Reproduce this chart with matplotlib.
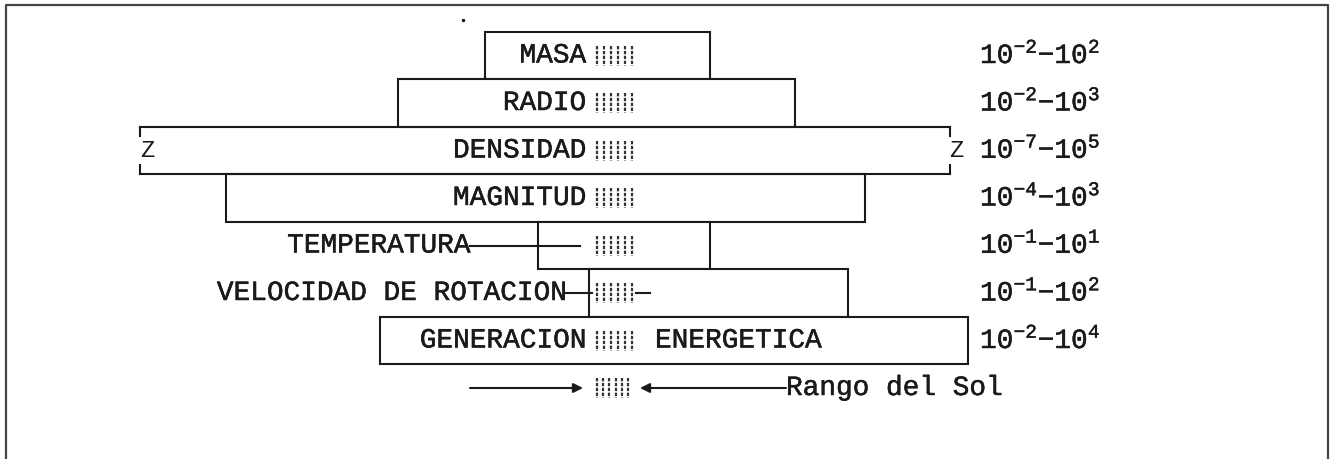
import numpy as np
import matplotlib.pyplot as plt
import matplotlib.patheffects as pe

plt.rcParams['font.family'] = ['Liberation Mono', 'DejaVu Sans Mono']
plt.rcParams['mathtext.fontset'] = 'custom'
plt.rcParams['mathtext.rm'] = 'Liberation Mono'
plt.rcParams['mathtext.default'] = 'rm'

# rango de cada parametro estelar (extremos del recuadro, esquema)
labels = ["MASA", "RADIO", "DENSIDAD", "MAGNITUD", "TEMPERATURA",
          "VELOCIDAD DE ROTACION", "GENERACION"]
left = [485, 398, 140, 226, 538, 589, 380]
right = [710, 795, 950, 865, 710, 848, 968]
exp_low = [-2, -2, -7, -4, -1, -1, -2]
exp_high = [2, 3, 5, 3, 1, 2, 4]
sun_range = [597, 632]

fig = plt.figure(figsize=(13.3, 4.59), dpi=100)
ax = fig.add_axes([0, 0, 1, 1])
ax.set_xlim(0, 1330)
ax.set_ylim(459, 0)
ax.axis('off')

row_h = 47.5
y0 = 55.5
ys = y0 + row_h * np.arange(len(labels))
lw = 1.5
fs = 20
ink = '#1a1a1a'
thick = [pe.withStroke(linewidth=0.35, foreground=ink)]
txt = dict(fontsize=fs, va='center', color=ink, path_effects=thick)

# recuadros
for i, (lab, l, r, y) in enumerate(zip(labels, left, right, ys)):
    top, bot = y - row_h / 2, y + row_h / 2
    if lab == "DENSIDAD":
        # extremos cortados (Z)
        ax.plot([l, r], [top, top], color=ink, lw=lw)
        ax.plot([l, r], [bot, bot], color=ink, lw=lw)
        for xe in (l, r):
            ax.plot([xe, xe], [top, top + 9], color=ink, lw=lw)
            ax.plot([xe, xe], [bot - 9, bot], color=ink, lw=lw)
        ax.text(l + 7, y, "Z", fontsize=17, ha='center', va='center', color=ink)
        ax.text(r + 6, y, "Z", fontsize=17, ha='center', va='center', color=ink)
    else:
        ax.barh(y, r - l, left=l, height=row_h, facecolor='white',
                edgecolor=ink, linewidth=lw, zorder=1)

    # zona del Sol
    ax.vlines(np.linspace(sun_range[0], sun_range[1], 6), y - 10, y + 10,
              colors='#333333', linestyles=(0, (1.5, 0.7)), lw=1.6, zorder=3)

    ax.text(980, y, r"$10^{%d}{-}10^{%d}$" % (exp_low[i], exp_high[i]),
            ha='left', **txt)

# etiquetas
for lab, y in zip(labels[:4], ys[:4]):
    ax.text(586, y, lab, ha='right', **txt)

ax.text(470, ys[4], "TEMPERATURA", ha='right', **txt)
ax.plot([470, 580], [ys[4], ys[4]], color=ink, lw=lw)

ax.text(566, ys[5], "VELOCIDAD DE ROTACION", ha='right', **txt)
ax.plot([566, 592], [ys[5], ys[5]], color=ink, lw=lw)
ax.plot([636, 650], [ys[5], ys[5]], color=ink, lw=lw)

ax.text(586, ys[6], "GENERACION", ha='right', **txt)
ax.text(655, ys[6], "ENERGETICA", ha='left', **txt)

# rango del Sol
yb = ys[-1] + row_h
ax.vlines(np.linspace(sun_range[0], sun_range[1] - 4, 6), yb - 10, yb + 10,
          colors='#333333', linestyles=(0, (1.5, 0.7)), lw=1.6)
ax.annotate("", xy=(583, yb), xytext=(470, yb),
            arrowprops=dict(arrowstyle='-|>', color=ink, lw=lw,
                            mutation_scale=14, shrinkA=0, shrinkB=0))
ax.annotate("", xy=(640, yb), xytext=(786, yb),
            arrowprops=dict(arrowstyle='-|>', color=ink, lw=lw,
                            mutation_scale=14, shrinkA=0, shrinkB=0))
ax.text(786, yb, "Rango del Sol", ha='left', **txt)

ax.plot([463], [20], marker='.', color=ink, ms=3)

# marco
ax.plot([6, 6, 1328, 1328], [459, 5, 5, 459], color='#444444', lw=1.6)

fig.savefig("out.png", dpi=100)
